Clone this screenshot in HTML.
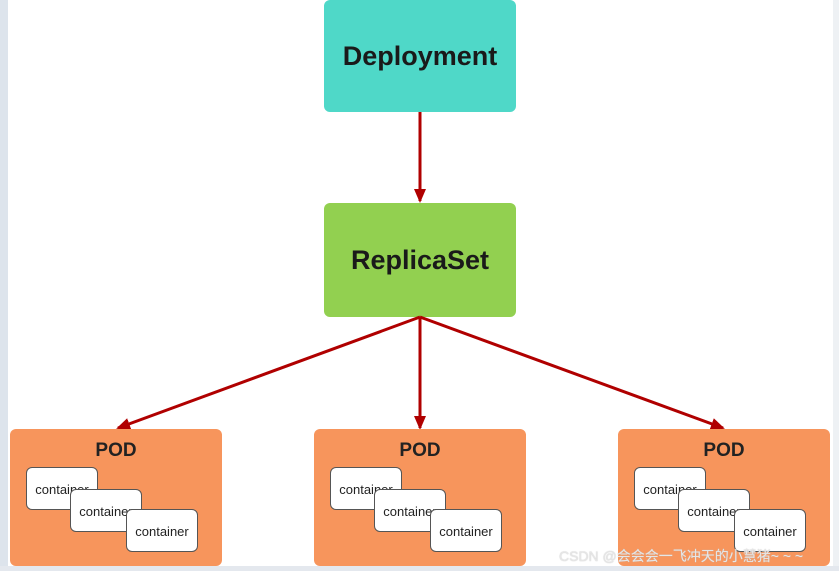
<!DOCTYPE html><html><head><style>
body{margin:0;width:839px;height:571px;position:relative;background:#fff;font-family:"Liberation Sans",sans-serif;overflow:hidden}
.b{position:absolute;border-radius:6px;display:flex;align-items:center;justify-content:center;font-weight:bold;color:#1a1a1a}
.pod{position:absolute;top:429px;width:212px;height:137px;background:#f7955c;border-radius:6px}
.pod .t{position:absolute;top:11px;width:100%;text-align:center;font-weight:bold;font-size:19px;color:#222}
.c{position:absolute;width:72px;height:43px;background:#fff;border:1px solid #555;border-radius:6px;font-size:13px;color:#222;line-height:43px;text-align:center;overflow:hidden;white-space:nowrap;box-sizing:border-box}
</style></head><body>
<div style="position:absolute;left:0;top:0;width:8px;height:571px;background:#dde4ec"></div>
<div style="position:absolute;left:833px;top:0;width:6px;height:571px;background:#eef1f4"></div>
<div style="position:absolute;left:0;top:566px;width:839px;height:5px;background:#e4e8ee"></div>
<div class="b" style="left:324px;top:0;width:192px;height:112px;background:#4fd8c8;font-size:27px">Deployment</div>
<div class="b" style="left:324px;top:203px;width:192px;height:114px;background:#92d050;font-size:27px">ReplicaSet</div>
<svg style="position:absolute;left:0;top:0" width="839" height="571">
<defs><marker id="a" markerWidth="14" markerHeight="12" refX="12" refY="6" orient="auto" markerUnits="userSpaceOnUse"><path d="M0,0 L14,6 L0,12 Z" fill="#b00000"/></marker></defs>
<g stroke="#b00000" stroke-width="3" fill="none">
<line x1="420" y1="112" x2="420" y2="201" marker-end="url(#a)"/>
<line x1="420" y1="317" x2="420" y2="428" marker-end="url(#a)"/>
<line x1="420" y1="317" x2="118" y2="428" marker-end="url(#a)"/>
<line x1="420" y1="317" x2="723" y2="428" marker-end="url(#a)"/>
</g></svg>
<div class="pod" style="left:10px"><div class="t">POD</div><div class="c" style="left:16px;top:38px">container</div><div class="c" style="left:60px;top:60px">container</div><div class="c" style="left:116px;top:80px">container</div></div>
<div class="pod" style="left:314px"><div class="t">POD</div><div class="c" style="left:16px;top:38px">container</div><div class="c" style="left:60px;top:60px">container</div><div class="c" style="left:116px;top:80px">container</div></div>
<div class="pod" style="left:618px"><div class="t">POD</div><div class="c" style="left:16px;top:38px">container</div><div class="c" style="left:60px;top:60px">container</div><div class="c" style="left:116px;top:80px">container</div></div>
<div style="position:absolute;left:559px;top:546px;font-size:14px;color:#e6e6e6;text-shadow:0 0 1px #bbb;font-family:'Liberation Sans','Noto Sans CJK SC',sans-serif;white-space:nowrap">CSDN @会会会一飞冲天的小慧猪~ ~ ~</div>
</body></html>
